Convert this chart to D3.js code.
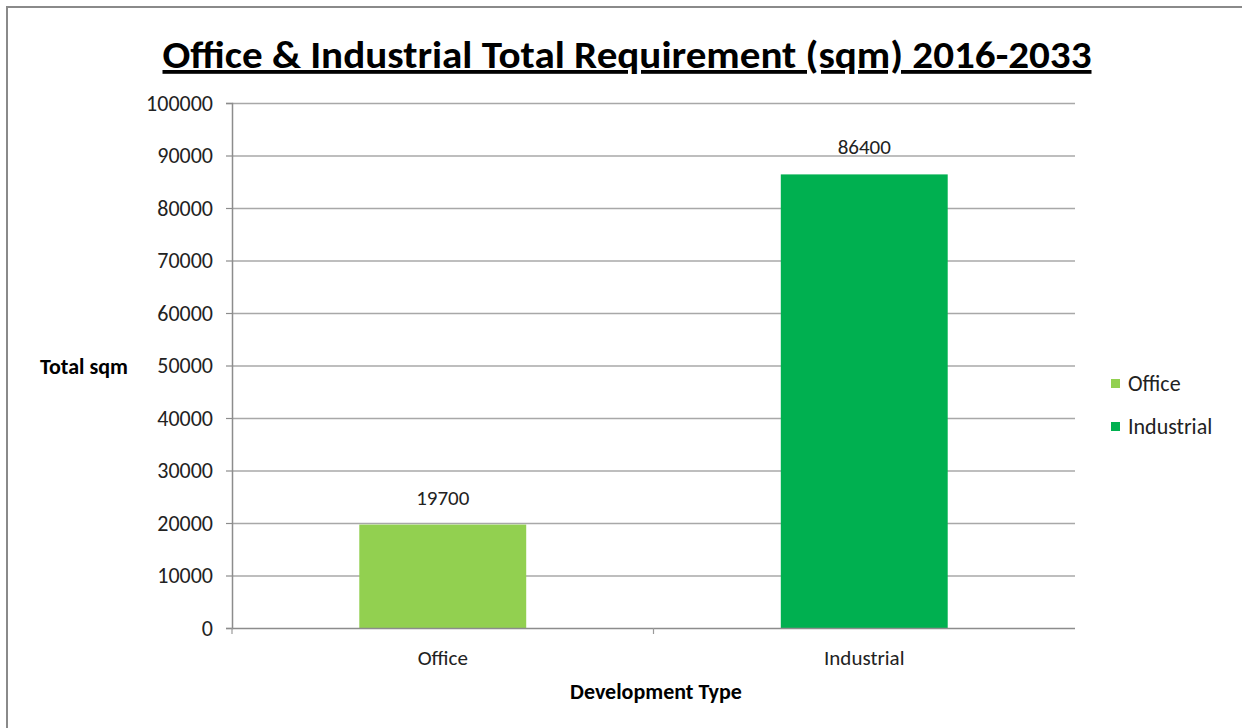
<!DOCTYPE html>
<html><head><meta charset="utf-8">
<script src="https://cdn.jsdelivr.net/npm/d3@7"></script>
<style>body{margin:0;background:#fff;}svg{display:block;}</style>
</head><body>
<svg id="c" width="1242" height="728"></svg>
<script>
const categories = ["Office", "Industrial"];
const values = [19700, 86400];
const colors = ["#92d050", "#00b050"];
const yTicks = [0,10000,20000,30000,40000,50000,60000,70000,80000,90000,100000];
const title = "Office & Industrial Total Requirement (sqm) 2016-2033";
const yTitle = "Total sqm";
const xTitle = "Development Type";

const svg = d3.select("#c");
const font = "Carlito, Calibri, 'Open Sans', 'Liberation Sans', sans-serif";
const W = 1242, H = 728;
svg.append("rect").attr("x",7).attr("y",7).attr("width",W).attr("height",H)
  .attr("fill","#fff").attr("stroke","#8a8a8a").attr("stroke-width",2);

const m = {left:232, right:1075, top:103, bottom:628};
const x = d3.scaleBand().domain(categories).range([m.left,m.right]).paddingInner(0.604).paddingOuter(0.302);
const y = d3.scaleLinear().domain([0,100000]).range([m.bottom,m.top]);

// gridlines
svg.append("g").selectAll("line").data(yTicks.filter(d=>d>0)).join("line")
  .attr("x1",m.left).attr("x2",m.right).attr("y1",d=>y(d)+0.5).attr("y2",d=>y(d)+0.5)
  .attr("stroke","#a8a8a8").attr("stroke-width",1.5);

// y axis
const ya = svg.append("g").attr("transform",`translate(${m.left},0)`)
  .call(d3.axisLeft(y).tickValues(yTicks).tickSize(6).tickPadding(13).tickFormat(d3.format("d")));
ya.select(".domain").attr("stroke","#8c8c8c").attr("stroke-width",1.5);
ya.selectAll(".tick line").attr("stroke","#8c8c8c").attr("stroke-width",1.2);
ya.selectAll("text").attr("font-family",font).attr("font-size",22).attr("fill","#222");

// bars
svg.append("g").selectAll("rect").data(categories).join("rect")
  .attr("x",d=>x(d)).attr("width",x.bandwidth())
  .attr("y",(d,i)=>y(values[i])).attr("height",(d,i)=>y(0)-y(values[i]))
  .attr("fill",(d,i)=>colors[i]);

// x axis
svg.append("line").attr("x1",m.left).attr("x2",m.right).attr("y1",m.bottom+0.5).attr("y2",m.bottom+0.5)
  .attr("stroke","#8c8c8c").attr("stroke-width",1.5);
svg.append("g").selectAll("line").data([0,1]).join("line")
  .attr("x1",i=>m.left+i*(m.right-m.left)/2).attr("x2",i=>m.left+i*(m.right-m.left)/2)
  .attr("y1",m.bottom).attr("y2",m.bottom+6).attr("stroke","#9a9a9a").attr("stroke-width",1.2);
svg.append("g").selectAll("text").data(categories).join("text")
  .attr("x",d=>x(d)+x.bandwidth()/2).attr("y",m.bottom+37)
  .attr("text-anchor","middle").attr("font-family",font).attr("font-size",21).attr("fill","#222")
  .text(d=>d);

// data labels
svg.append("g").selectAll("text").data(categories).join("text")
  .attr("x",d=>x(d)+x.bandwidth()/2).attr("y",(d,i)=>y(values[i])-20)
  .attr("text-anchor","middle").attr("font-family",font).attr("font-size",21).attr("fill","#222")
  .text((d,i)=>values[i]);

// title
svg.append("text").attr("x",627).attr("y",68).attr("text-anchor","middle")
  .attr("font-family",font).attr("font-weight","bold").attr("font-size",38)
  .attr("text-decoration","underline").attr("fill","#000")
  .attr("textLength",929).attr("lengthAdjust","spacingAndGlyphs").text(title);

// axis titles
svg.append("text").attr("x",40).attr("y",374).attr("font-family",font).attr("font-weight","bold")
  .attr("font-size",22).attr("fill","#000").text(yTitle);
svg.append("text").attr("x",656).attr("y",699).attr("text-anchor","middle").attr("font-family",font)
  .attr("font-weight","bold").attr("font-size",22).attr("fill","#000").text(xTitle);

// legend
const lg = svg.append("g").selectAll("g").data(categories).join("g")
  .attr("transform",(d,i)=>`translate(1111,${384+i*43})`);
lg.append("rect").attr("x",0).attr("y",-5).attr("width",9).attr("height",9).attr("fill",(d,i)=>colors[i]);
lg.append("text").attr("x",17).attr("y",7).attr("font-family",font).attr("font-size",22).attr("fill","#222").text(d=>d);
</script>
</body></html>
